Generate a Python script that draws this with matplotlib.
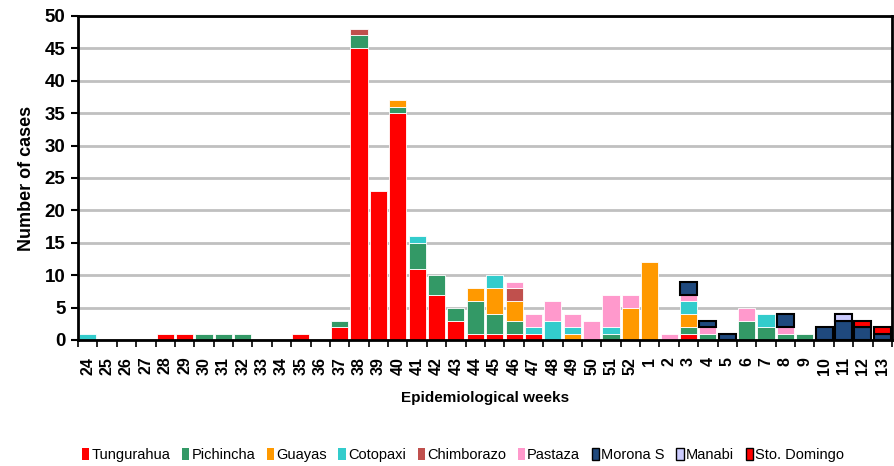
import numpy as np
import matplotlib
matplotlib.use("Agg")
import matplotlib.pyplot as plt
from matplotlib.patches import Patch

weeks = [str(w) for w in list(range(24, 53)) + list(range(1, 14))]

tungurahua = [0,0,0,0,1,1,0,0,0,0,0,1,0,2,45,23,35,11,7,3,1,1,1,1,0,0,0,0,0,0,0,1,0,0,0,0,0,0,0,0,0,0]
pichincha = [0,0,0,0,0,0,1,1,1,0,0,0,0,1,2,0,1,4,3,2,5,3,2,0,0,0,0,1,0,0,0,1,1,0,3,2,1,1,0,0,0,0]
guayas = [0,0,0,0,0,0,0,0,0,0,0,0,0,0,0,0,1,0,0,0,2,4,3,0,0,1,0,0,5,12,0,2,0,0,0,0,0,0,0,0,0,0]
cotopaxi = [1,0,0,0,0,0,0,0,0,0,0,0,0,0,0,0,0,1,0,0,0,2,0,1,3,1,0,1,0,0,0,2,0,0,0,2,0,0,0,0,0,0]
chimborazo = [0,0,0,0,0,0,0,0,0,0,0,0,0,0,1,0,0,0,0,0,0,0,2,0,0,0,0,0,0,0,0,0,0,0,0,0,0,0,0,0,0,0]
pastaza = [0]*22 + [1,2,3,2,3,5,2,0,1,1,1,0,2,0,1,0,0,0,0,0]
morona = [0]*31 + [2,1,1,0,0,2,0,2,3,2,1]
manabi = [0]*39 + [1,0,0]
sto_domingo = [0]*40 + [1,1]

series = [
    ("Tungurahua", tungurahua, "#ff0000", "white", 0.6),
    ("Pichincha", pichincha, "#339966", "white", 0.6),
    ("Guayas", guayas, "#ff9900", "white", 0.6),
    ("Cotopaxi", cotopaxi, "#33cccc", "white", 0.6),
    ("Chimborazo", chimborazo, "#c0504d", "white", 0.6),
    ("Pastaza", pastaza, "#ff99cc", "white", 0.6),
    ("Morona S", morona, "#1f497d", "black", 1.5),
    ("Manabi", manabi, "#ccccff", "black", 1.5),
    ("Sto. Domingo", sto_domingo, "#ff0000", "black", 1.5),
]

plt.rcParams["font.family"] = ["Liberation Sans", "DejaVu Sans"]

fig = plt.figure(figsize=(8.94, 4.66), dpi=100)
ax = fig.add_axes([78 / 894, 126 / 466, 814 / 894, 324 / 466])

x = np.arange(len(weeks))
bottom = np.zeros(len(weeks))
handles = []
for name, vals, color, ec, lw in series:
    v = np.array(vals, dtype=float)
    mask = v > 0
    ax.bar(x[mask], v[mask], bottom=bottom[mask], width=0.88, color=color,
           edgecolor=ec, linewidth=lw)
    bottom += v
    handles.append(Patch(facecolor=color, edgecolor=ec, linewidth=1 if ec == "black" else 0, label=name))

ax.set_xlim(-0.5, len(weeks) - 0.5)
ax.set_ylim(0, 50)
ax.set_yticks(range(0, 51, 5))
ax.yaxis.grid(True, color="#c0c0c0", linewidth=2)
ax.set_axisbelow(True)

ax.set_xticks(x)
ax.set_xticklabels(weeks, rotation=90, fontsize=11.5, fontweight="bold")
ax.set_xticks(np.arange(-0.5, len(weeks)), minor=True)
ax.tick_params(axis="x", which="major", length=0, pad=12)
ax.tick_params(axis="x", which="minor", length=5, width=1.2, direction="out")
ax.tick_params(axis="y", length=5, width=1.5, direction="out", pad=4)
for lab in ax.get_yticklabels():
    lab.set_fontsize(13.5)
    lab.set_fontweight("bold")

for s in ax.spines.values():
    s.set_linewidth(2)
    s.set_color("black")

ax.set_ylabel("Number of cases", fontsize=13, fontweight="bold", labelpad=7)
ax.set_xlabel("Epidemiological weeks", fontsize=11, fontweight="bold", labelpad=12)

fig.legend(handles=handles, loc="center", bbox_to_anchor=(463 / 894, 1 - 455 / 466),
           ncol=9, frameon=False, prop={"size": 10.5},
           handlelength=0.5, handleheight=0.9, handletextpad=0.15, columnspacing=0.8,
           borderaxespad=0)

fig.savefig("out.png", dpi=100)
